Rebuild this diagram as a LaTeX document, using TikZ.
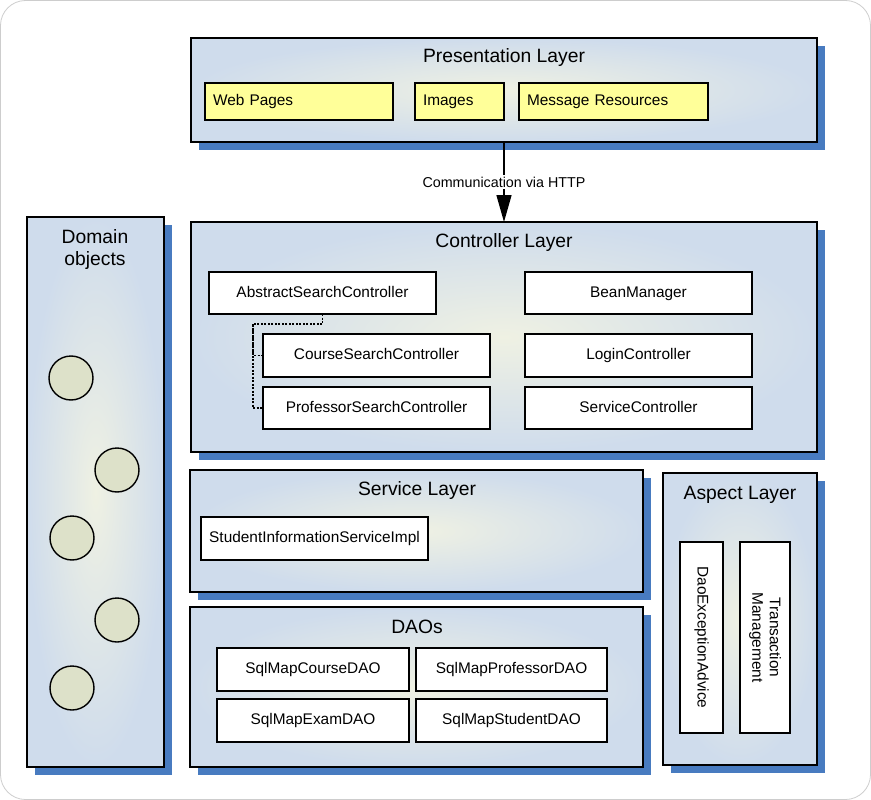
\documentclass[tikz,border=0pt]{standalone}
\usepackage{fontspec}
\setmainfont{Liberation Sans}
\usetikzlibrary{shadows,arrows.meta,calc}
\definecolor{shblue}{RGB}{72,123,192}
\definecolor{lyout}{RGB}{207,220,236}
\definecolor{lyin}{RGB}{239,241,227}
\definecolor{ybox}{RGB}{255,255,153}
\definecolor{dobj}{RGB}{221,225,201}
\definecolor{framegray}{RGB}{205,205,205}
\begin{document}
\begin{tikzpicture}[x=1pt,y=-1pt,
  layer/.style={draw=black, line width=1.6pt, inner color=lyin, outer color=lyout,
    general shadow={fill=shblue, shadow xshift=8pt, shadow yshift=-8pt},
    inner sep=0pt, outer sep=0pt},
  ltitle/.style={font=\fontsize{19.3}{22}\selectfont, anchor=base, inner sep=0pt},
  boxbase/.style={draw=black, fill=white, line width=1.5pt, inner sep=0pt, outer sep=0pt,
    font=\fontsize{15.4}{17.5}\selectfont, minimum height=42pt, minimum width=227pt},
  cbox/.style={boxbase, text height=11pt, text depth=3pt},
  ybox/.style={cbox, fill=ybox, minimum height=37pt, minimum width=0pt, align=left, inner xsep=8pt},
  dcirc/.style={circle, draw=black, fill=dobj, line width=1.4pt, minimum size=44pt, inner sep=0pt},
  dotline/.style={line width=1.1pt, dash pattern=on 2pt off 1.5pt},
  lbl/.style={fill=white, font=\fontsize{14.3}{16}\selectfont, inner sep=1.5pt}
]
\useasboundingbox (0,0) rectangle (871,800);
\draw[framegray, line width=0.8pt, rounded corners=25pt] (0.5,0.5) rectangle (870.5,799.5);

% layers
\node[layer, minimum width=626pt, minimum height=104pt] (pres) at (504,90) {};
\node[layer, minimum width=626pt, minimum height=230pt] (ctrl) at (504,337) {};
\node[layer, minimum width=453pt, minimum height=122pt] (serv) at (416.5,531) {};
\node[layer, minimum width=453pt, minimum height=160pt] (daos) at (416.5,687) {};
\node[layer, minimum width=154pt, minimum height=292pt] (asp) at (740,619) {};
\node[layer, minimum width=137pt, minimum height=550pt] (dom) at (95.5,492) {};

% titles
\node[ltitle] (tpres) at (504,63) {Presentation Layer};
\node[ltitle] (tctrl) at (504,247) {Controller Layer};
\node[ltitle] (tserv) at (417,495) {Service Layer};
\node[ltitle] (tdaos) at (417,633) {DAOs};
\node[ltitle] (tasp) at (740,499) {Aspect Layer};
\node[ltitle] (tdom1) at (95,243) {Domain};
\node[ltitle] (tdom2) at (95,265) {objects};

% presentation
\node[ybox, text width=172pt] (web) at (299,101.5) {Web Pages};
\node[ybox, text width=73pt] (img) at (459.5,101.5) {Images};
\node[ybox, text width=173pt] (msg) at (613.5,101.5) {Message Resources};

% arrow
\draw[line width=1.5pt, -{Triangle[length=27pt,width=15pt]}] (pres.south) -- (ctrl.north);
\path (pres.south) -- node[lbl] (http) {Communication via HTTP} (ctrl.north);

% controller
\node[cbox] (abs) at (322.5,293) {AbstractSearchController};
\node[cbox, minimum height=43pt] (course) at (376.5,355.5) {CourseSearchController};
\node[cbox] (prof) at (376.5,408) {ProfessorSearchController};
\node[cbox] (bean) at (638.5,293) {BeanManager};
\node[cbox, minimum height=43pt] (login) at (638.5,355.5) {LoginController};
\node[cbox] (svcc) at (638.5,408) {ServiceController};
\coordinate (j) at (253,324);
\draw[dotline] (abs.south) |- (j) |- (course.west);
\draw[dotline] (j) |- (prof.west);

% service
\node[cbox, minimum height=43pt] (sis) at (314.5,538.5) {StudentInformationServiceImpl};

% daos
\node[cbox, minimum width=192pt, minimum height=43pt] (d1) at (313,669.5) {SqlMapCourseDAO};
\node[cbox, minimum width=191pt, minimum height=43pt] (d2) at (511.5,669.5) {SqlMapProfessorDAO};
\node[cbox, minimum width=192pt, minimum height=43pt] (d3) at (313,720.5) {SqlMapExamDAO};
\node[cbox, minimum width=191pt, minimum height=43pt] (d4) at (511.5,720.5) {SqlMapStudentDAO};

% aspect
\node[cbox, rotate=-90, minimum width=191pt, minimum height=43pt] (daoex) at (701.5,637.5) {DaoExceptionAdvice};
\node[boxbase, rotate=-90, minimum width=191pt, minimum height=50pt, align=center] (trans) at (765,637.5) {Transaction\\Management};

% domain objects
\node[dcirc] (o1) at (71,378) {};
\node[dcirc] (o2) at (117,470) {};
\node[dcirc] (o3) at (72,538) {};
\node[dcirc] (o4) at (117,620) {};
\node[dcirc] (o5) at (72,688) {};
\end{tikzpicture}
\end{document}
